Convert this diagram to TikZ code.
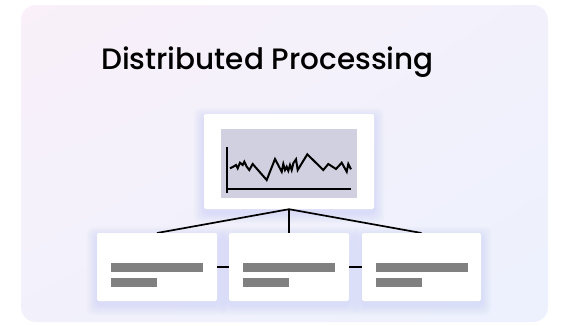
\documentclass[tikz,border=0pt]{standalone}
\usepackage{fontspec}
\usepackage{tikz}
\usetikzlibrary{calc}
\usetikzlibrary{shadings}
\usetikzlibrary{positioning}
\IfFontExistsTF{Poppins Medium}
    {\newfontfamily\titlefont{Poppins Medium}}
    {\newfontfamily\titlefont{Poppins}[FakeBold=0.8]}
\definecolor{panelpink}{RGB}{249, 240, 249}
\definecolor{panellilac}{RGB}{242, 241, 251}
\definecolor{panelblue}{RGB}{236, 241, 253}
\definecolor{glowblue}{RGB}{150, 180, 248}
\definecolor{chartgray}{RGB}{208, 208, 224}
\definecolor{bargray}{RGB}{128, 128, 128}
\tikzset{
    card/.style  = {fill=white, rounded corners=2pt, inner sep=0pt},
    bar/.style   = {fill=bargray, inner sep=0pt, minimum height=9pt, anchor=west},
    link/.style  = {draw=black, line width=1.7pt},
    trace/.style = {line width=2pt, line join=miter}
}
\newcommand{\glow}[1]{%
    \foreach \i in {1,...,10}
        \fill[glowblue, opacity=0.022, rounded corners=6pt]
            ($(#1.south west)+(-\i,\i+4)$) rectangle ($(#1.north east)+(\i,-\i+4)$);
}
\begin{document}
\begin{tikzpicture}[x=1pt, y=-1pt]
            \useasboundingbox (0,0) rectangle (564,325);
            \fill[white] (0,0) rectangle (564,325);
            \shade[rounded corners=15pt, upper left=panelpink, upper right=panellilac,
                   lower left=panellilac, lower right=panelblue] (21,5) rectangle (548,322);
            \node[anchor=base west, inner sep=0pt] (title) at (101,69)
                 {\titlefont\fontsize{29.5}{34}\selectfont Distributed Processing};

            % chart card on top
            \coordinate (topc) at (289,161.5);
            \path (topc) node[minimum width=170pt, minimum height=95pt, inner sep=0pt] (topghost) {};
            \glow{topghost}
            \node[card, minimum width=170pt, minimum height=95pt] (top) at (topc) {};
            \node[fill=chartgray, inner sep=0pt, minimum width=136pt, minimum height=69pt] (chart) at (289,163.5) {};
            \draw[line width=2pt] (227,147) -- (227,193);
            \draw[line width=2pt] (227,189) -- (351,189);
            \draw[trace] plot coordinates {(230,168.3) (233.3,166.7) (236,165) (237.7,168.3) (240,162.7)
                 (242.7,165) (244.3,161.7) (246.7,166.7) (249.3,170) (252.7,164) (266.7,180) (275,159)
                 (281.7,171.7) (283.3,164) (285,170) (286.7,166.7) (288.3,170.7) (290,165) (291.7,170)
                 (293.3,163.3) (296,159.3) (297.7,170) (307.3,154.3) (323.3,170) (328.3,164) (336,169)
                 (341.7,162.7) (346.7,171.7) (348.3,164) (351,169.3)};

            % worker cards
            \path (157,267) node[minimum width=120pt, minimum height=68pt, inner sep=0pt] (leftghost) {};
            \path (289,267) node[minimum width=120pt, minimum height=68pt, inner sep=0pt] (midghost) {};
            \path (421.5,267) node[minimum width=119pt, minimum height=68pt, inner sep=0pt] (rightghost) {};
            \glow{leftghost}
            \glow{midghost}
            \glow{rightghost}

            \draw[link] (top.south) -- (157,233);
            \draw[link] (top.south) -- (289,233);
            \draw[link] (top.south) -- (421.5,233);

            \node[card, minimum width=120pt, minimum height=68pt] (left)  at (157,267)   {};
            \node[card, minimum width=120pt, minimum height=68pt] (mid)   at (289,267)   {};
            \node[card, minimum width=119pt, minimum height=68pt] (right) at (421.5,267) {};

            \draw[link] (left.east) -- (mid.west);
            \draw[link] (mid.east)  -- (right.west);

            \foreach \card in {left, mid, right} {
                \node[bar, minimum width=92pt] (\card bara) at ($(\card.west)+(14,0.5)$)  {};
                \node[bar, minimum width=46pt] (\card barb) at ($(\card.west)+(14,15.5)$) {};
            }
        \end{tikzpicture}
\end{document}
